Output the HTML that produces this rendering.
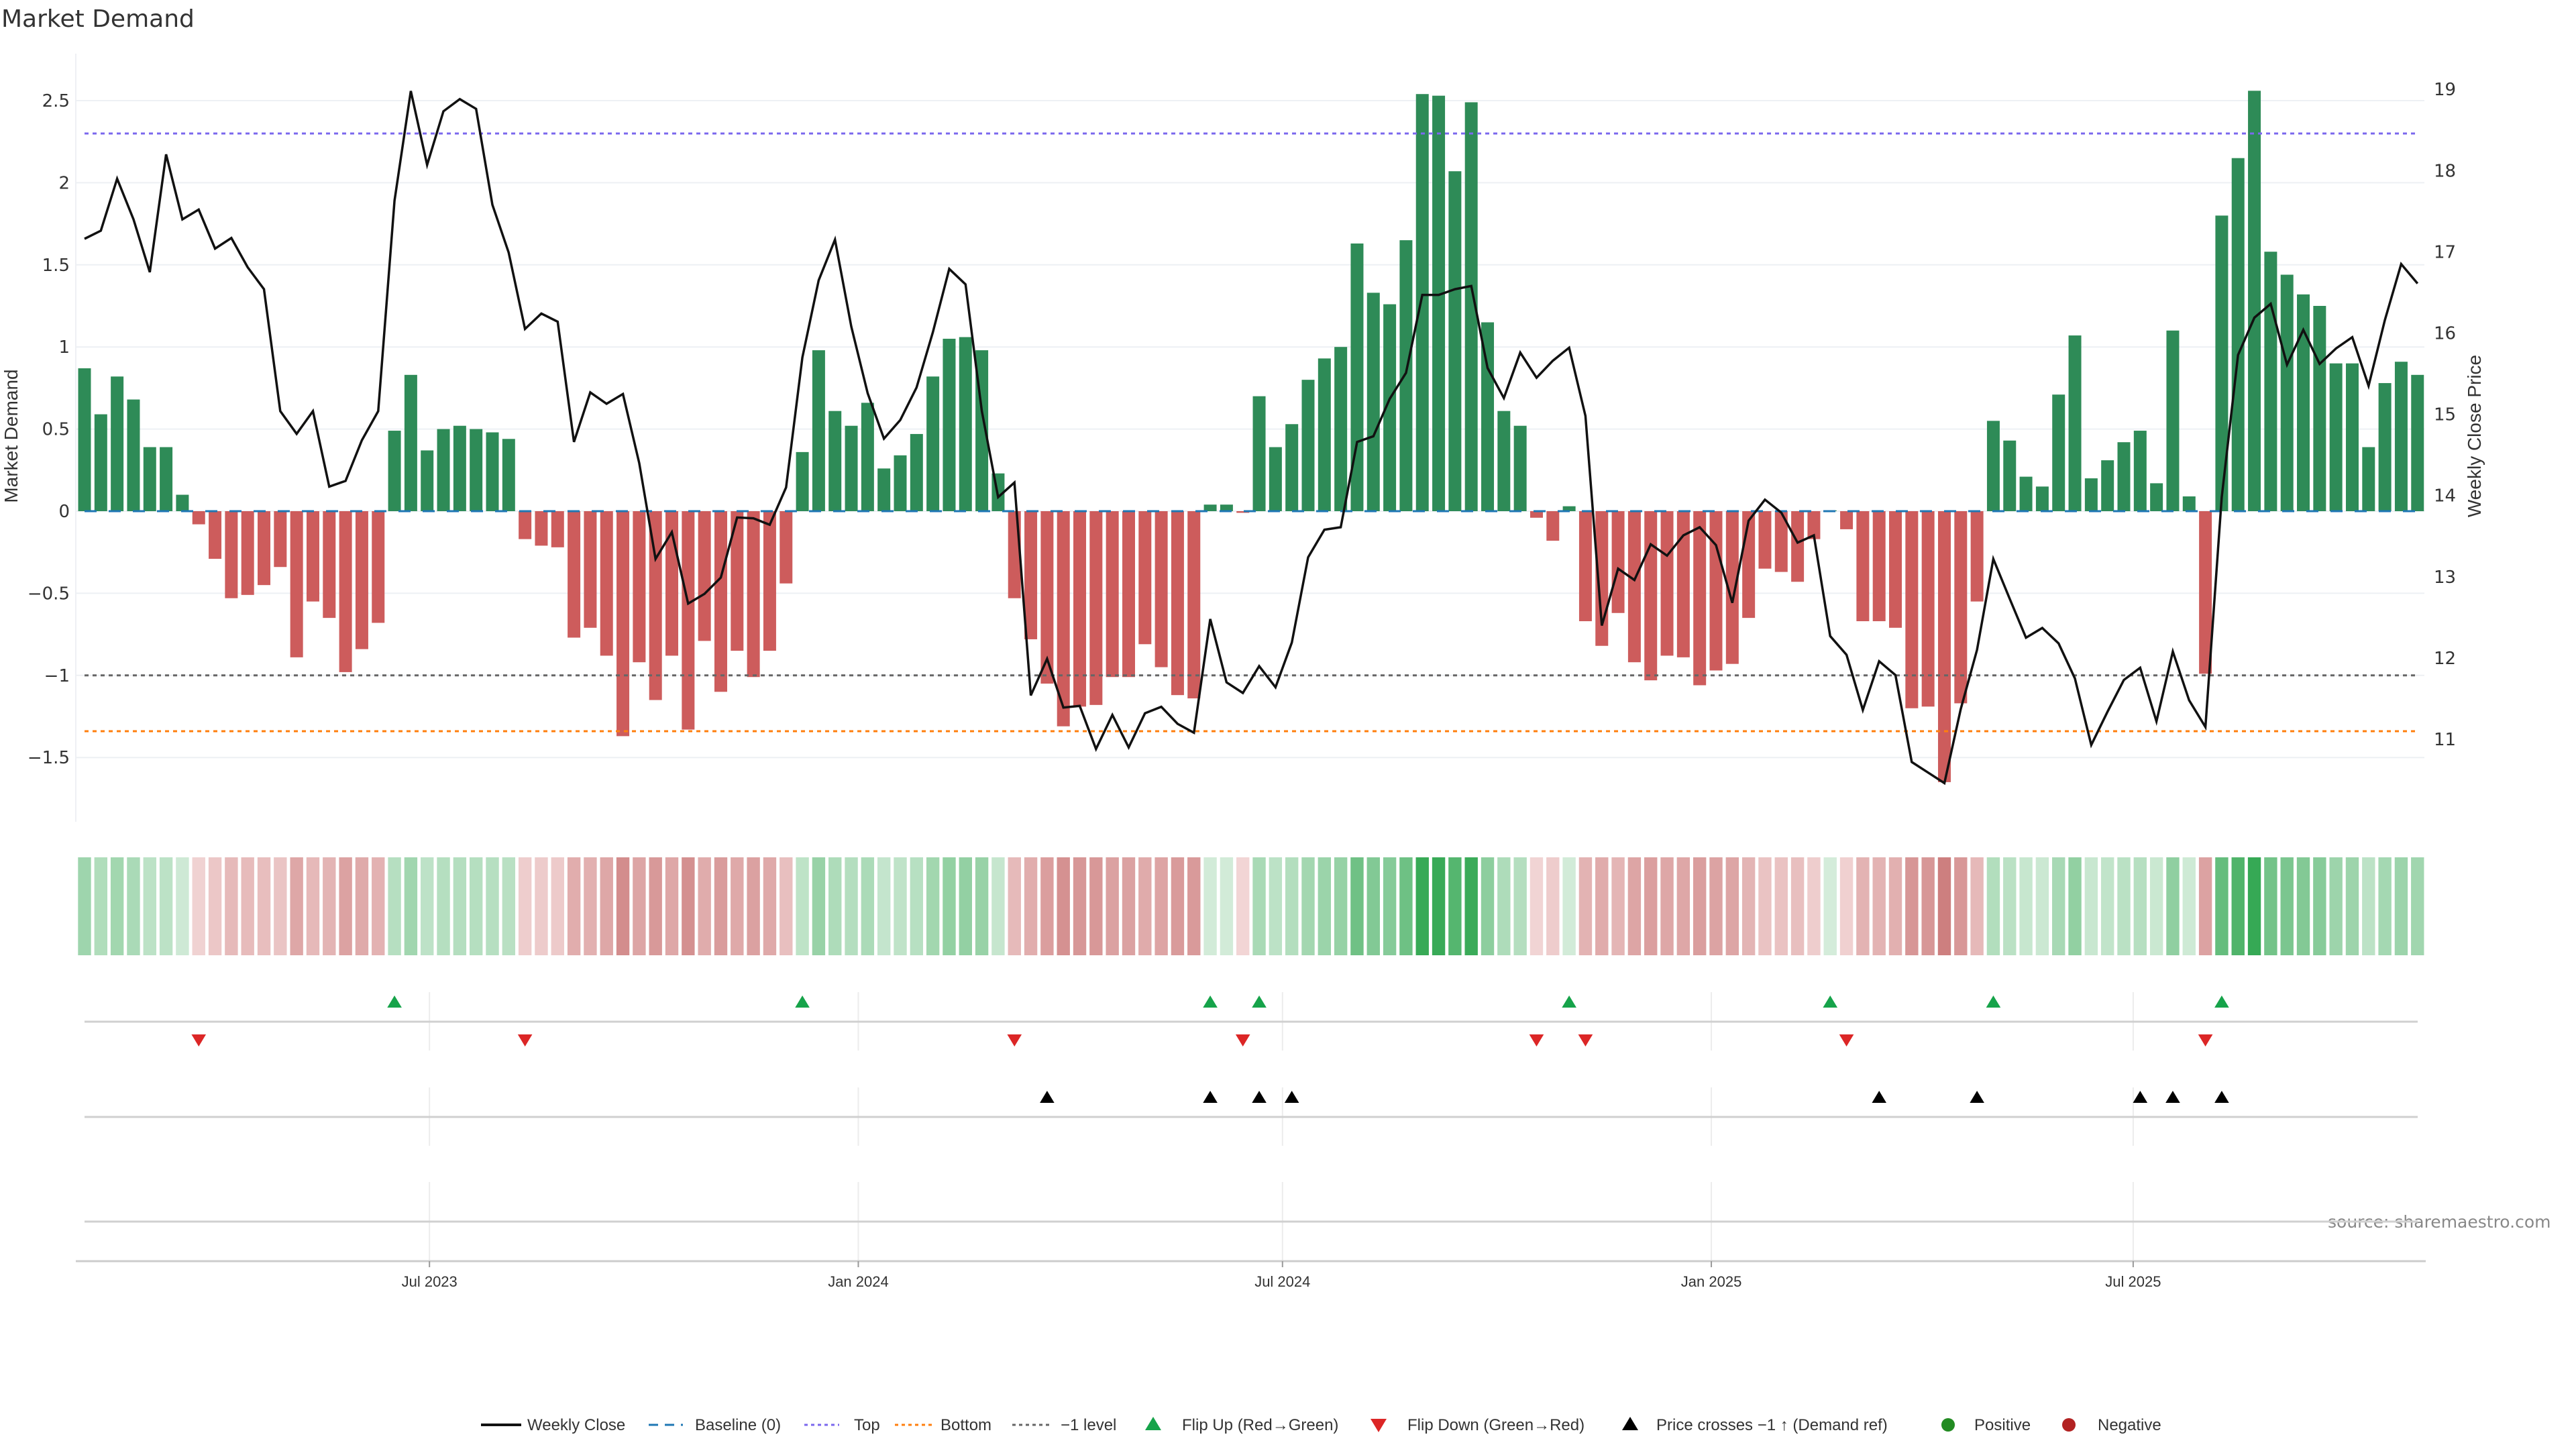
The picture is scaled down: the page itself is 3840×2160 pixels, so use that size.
<!DOCTYPE html>
<html><head><meta charset="utf-8"><title>Market Demand</title>
<style>
html,body{margin:0;padding:0;background:#fff;}
svg{display:block;font-family:"Liberation Sans","DejaVu Sans",sans-serif;}
</style></head>
<body>
<svg id="chart" xmlns="http://www.w3.org/2000/svg" width="3840" height="2160" viewBox="0 0 3840 2160">
<text x="2" y="40" font-size="36" fill="#333" font-family="DejaVu Sans, sans-serif">Market Demand</text>
<text transform="translate(26,650) rotate(-90)" text-anchor="middle" font-size="28" fill="#333">Market Demand</text>
<text transform="translate(3698,650) rotate(-90)" text-anchor="middle" font-size="28" fill="#333">Weekly Close Price</text>
<text x="3470" y="1830" font-size="25" fill="#888" font-family="DejaVu Sans, sans-serif">source: sharemaestro.com</text>
<g id="layer"></g>
</svg>
<script>
// ---- data ----
const startDate = "2023-02-03";
const demand = [0.87,0.59,0.82,0.68,0.39,0.39,0.10,-0.08,-0.29,-0.53,-0.51,-0.45,-0.34,-0.89,-0.55,-0.65,-0.98,-0.84,-0.68,0.49,
0.83,0.37,0.50,0.52,0.50,0.48,0.44,-0.17,-0.21,-0.22,-0.77,-0.71,-0.88,-1.37,-0.92,-1.15,-0.88,-1.33,-0.79,-1.10,
-0.85,-1.01,-0.85,-0.44,0.36,0.98,0.61,0.52,0.66,0.26,0.34,0.47,0.82,1.05,1.06,0.98,0.23,-0.53,-0.78,-1.05,
-1.31,-1.19,-1.18,-1.01,-1.01,-0.81,-0.95,-1.12,-1.14,0.04,0.04,-0.01,0.70,0.39,0.53,0.80,0.93,1.00,1.63,1.33,
1.26,1.65,2.54,2.53,2.07,2.49,1.15,0.61,0.52,-0.04,-0.18,0.03,-0.67,-0.82,-0.62,-0.92,-1.03,-0.88,-0.89,-1.06,
-0.97,-0.93,-0.65,-0.35,-0.37,-0.43,-0.17,0.005,-0.11,-0.67,-0.67,-0.71,-1.20,-1.19,-1.65,-1.17,-0.55,0.55,0.43,0.21,
0.15,0.71,1.07,0.20,0.31,0.42,0.49,0.17,1.10,0.09,-0.99,1.80,2.15,2.56,1.58,1.44,1.32,1.25,0.90,0.90,
0.39,0.78,0.91,0.83];
const closePrice = [17.16,17.26,17.90,17.40,16.75,18.20,17.40,17.52,17.04,17.17,16.81,16.54,15.04,14.76,15.04,14.11,14.18,14.68,15.04,17.63,
18.98,18.07,18.73,18.88,18.76,17.58,16.99,16.05,16.24,16.14,14.66,15.27,15.13,15.25,14.40,13.22,13.55,12.67,12.79,12.99,
13.73,13.72,13.64,14.10,15.70,16.65,17.15,16.08,15.26,14.70,14.93,15.33,16.01,16.79,16.60,15.04,13.98,14.16,11.54,11.99,
11.39,11.41,10.88,11.30,10.90,11.32,11.40,11.19,11.08,12.48,11.70,11.57,11.90,11.64,12.19,13.24,13.58,13.61,14.66,14.73,
15.19,15.51,16.47,16.47,16.54,16.58,15.57,15.20,15.76,15.45,15.66,15.82,14.98,12.40,13.10,12.96,13.40,13.26,13.51,13.61,
13.39,12.68,13.69,13.95,13.79,13.42,13.51,12.27,12.04,11.36,11.96,11.79,10.72,10.59,10.46,11.37,12.10,13.22,12.73,12.25,
12.37,12.18,11.75,10.93,11.34,11.73,11.88,11.22,12.08,11.48,11.15,13.98,15.73,16.19,16.36,15.61,16.04,15.62,15.81,15.95,
15.35,16.16,16.85,16.61];
const leftTicks = [-1.5,-1,-0.5,0,0.5,1,1.5,2,2.5];
const leftTickLabels = ["\u22121.5","\u22121","\u22120.5","0","0.5","1","1.5","2","2.5"];
const rightTicks = [11,12,13,14,15,16,17,18,19];
const dateTicks = ["2023-07-01","2024-01-01","2024-07-01","2025-01-01","2025-07-01"];
const dateTickLabels = ["Jul 2023","Jan 2024","Jul 2024","Jan 2025","Jul 2025"];
const levelTop = 2.3, levelBottom = -1.34, levelMinus1 = -1;

// ---- scales ----
const X0 = 126, DX = 24.32;
const xi = i => X0 + DX * i;
const dayMs = 86400000;
const xd = d => X0 + DX * ((new Date(d) - new Date(startDate)) / dayMs / 7);
const yL = v => 762 - v * 244.8;
const yR = v => 1102 - (v - 11) * 121.1;
const NS = "http://www.w3.org/2000/svg";
const layer = document.getElementById('layer');
function mk(tag, attrs, parent) {
  const el = document.createElementNS(NS, tag);
  for (const k in attrs) el.setAttribute(k, attrs[k]);
  (parent || layer).appendChild(el);
  return el;
}
const PL = 113, PR = 3614;

leftTicks.forEach((t, k) => {
  const g = mk('line', {x1: PL, x2: PR, y1: yL(t), y2: yL(t), stroke: '#edf0f4', 'stroke-width': 2});
  
  
  const tx = mk('text', {x: 104, y: yL(t) + 9, 'text-anchor': 'end', 'font-size': 26, fill: '#333', 'font-family': 'DejaVu Sans, sans-serif'});
  tx.textContent = leftTickLabels[k];
  
  
});
rightTicks.forEach(t => {
  const tx = mk('text', {x: 3628, y: yR(t) + 9, 'font-size': 26, fill: '#333', 'font-family': 'DejaVu Sans, sans-serif'});
  tx.textContent = String(t);
  
  
});
const ax = mk('line', {x1: PL, x2: PL, y1: 80, y2: 1225, stroke: '#eef0f4', 'stroke-width': 2});



demand.forEach((v, i) => {
  const y0 = yL(0), y1 = yL(v);
  const b = mk('rect', {x: xi(i) - 9.5, y: Math.min(y0, y1), width: 19, height: Math.max(Math.abs(y1 - y0), 0.5), fill: v >= 0 ? '#2e8b57' : '#cd5c5c'});
  
  
});

function hline(v, color, dash, name) {
  const l = mk('line', {x1: X0, x2: xi(demand.length - 1), y1: yL(v), y2: yL(v), stroke: color, 'stroke-width': 3, 'stroke-dasharray': dash});
  
  
}
hline(0, '#1f77b4', '18,18', 'baseline-line');
hline(levelTop, '#7b68ee', '6,6', 'top-line');
hline(levelBottom, '#ff7f0e', '6,6', 'bottom-line');
hline(levelMinus1, '#666', '6,6', 'minus1-line');

const pts = closePrice.map((p, i) => xi(i).toFixed(1) + ',' + yR(p).toFixed(1)).join(' ');
const pl = mk('polyline', {points: pts, fill: 'none', stroke: '#111', 'stroke-width': 3.5, 'stroke-linejoin': 'miter'});



function cellColor(v) {
  if (v >= 0) {
    const t = Math.min(v / 2.6, 1);
    return `rgb(${Math.round(212 - 160 * t)},${Math.round(236 - 68 * t)},${Math.round(218 - 135 * t)})`;
  }
  const t = Math.min(-v / 1.7, 1);
  return `rgb(${Math.round(242 - 38 * t)},${Math.round(214 - 90 * t)},${Math.round(214 - 90 * t)})`;
}
demand.forEach((v, i) => {
  const c = mk('rect', {x: xi(i) - 9.7, y: 1278, width: 19.4, height: 146, fill: cellColor(v)});
  
  
});

function panelGrid(y1, y2) {
  dateTicks.forEach(d => {
    const l = mk('line', {x1: xd(d), x2: xd(d), y1: y1, y2: y2, stroke: '#ececec', 'stroke-width': 2});
    
    
  });
}
panelGrid(1479, 1566); panelGrid(1621, 1708); panelGrid(1762, 1880);
[1523, 1665, 1821].forEach(y => {
  const l = mk('line', {x1: X0, x2: 3604, y1: y, y2: y, stroke: '#d0d0d0', 'stroke-width': 3});
  
  
});
const xa = mk('line', {x1: PL, x2: 3616, y1: 1880, y2: 1880, stroke: '#ccc', 'stroke-width': 3});


dateTicks.forEach((d, k) => {
  const t = mk('line', {x1: xd(d), x2: xd(d), y1: 1880, y2: 1889, stroke: '#999', 'stroke-width': 2});
  
  
  const tx = mk('text', {x: xd(d), y: 1918, 'text-anchor': 'middle', 'font-size': 22, fill: '#333'});
  tx.textContent = dateTickLabels[k];
  
  
});

function tri(x, y, up, color, s) {
  const h = s, w = s * 0.6;
  const p = up ? `${x - w},${y + h / 2} ${x + w},${y + h / 2} ${x},${y - h / 2}` : `${x - w},${y - h / 2} ${x + w},${y - h / 2} ${x},${y + h / 2}`;
  return mk('polygon', {points: p, fill: color});
}
for (let i = 1; i < demand.length; i++) {
  if (demand[i - 1] < 0 && demand[i] >= 0) {
    const t = tri(xi(i), 1493, true, '#16a34a', 18);
    
    
  } else if (demand[i - 1] >= 0 && demand[i] < 0) {
    const t = tri(xi(i), 1551, false, '#dc2626', 18);
    
    
  }
}
const crossLevel = 11 + (1102 - yL(levelMinus1)) / 121.1;
for (let i = 1; i < closePrice.length; i++) {
  if (closePrice[i - 1] < crossLevel && closePrice[i] >= crossLevel) {
    const t = tri(xi(i), 1635, true, '#000', 18);
    
    
  }
}

const LY = 2124;
function legText(x, s) {
  const t = mk('text', {x: x, y: LY + 8, 'font-size': 24, fill: '#333'});
  t.textContent = s;
  
  
}
function legLine(x1, x2, color, w, dash, name) {
  const l = mk('line', {x1: x1, x2: x2, y1: LY, y2: LY, stroke: color, 'stroke-width': w, 'stroke-dasharray': dash || 'none'});
  
  
}
legLine(717, 777, '#111', 4, null, 'legend-weekly-close'); legText(786, 'Weekly Close');
legLine(967, 1018, '#1f77b4', 3, '14,10', 'legend-baseline'); legText(1036, 'Baseline (0)');
legLine(1199, 1251, '#7b68ee', 3, '5,5', 'legend-top'); legText(1273, 'Top');
legLine(1334, 1389, '#ff7f0e', 3, '5,5', 'legend-bottom'); legText(1402, 'Bottom');
legLine(1509, 1564, '#666', 3, '5,5', 'legend-minus1'); legText(1581, '\u22121 level');
let m = tri(1719, LY - 2, true, '#16a34a', 20);


legText(1762, 'Flip Up (Red\u2192Green)');
m = tri(2055, LY + 1, false, '#dc2626', 20);


legText(2098, 'Flip Down (Green\u2192Red)');
m = tri(2430, LY - 2, true, '#000', 20);


legText(2469, 'Price crosses \u22121 \u2191 (Demand ref)');
m = mk('circle', {cx: 2904, cy: LY, r: 10, fill: '#228b22'});


legText(2943, 'Positive');
m = mk('circle', {cx: 3084, cy: LY, r: 10, fill: '#b22222'});


legText(3127, 'Negative');
</script>
</body></html>
